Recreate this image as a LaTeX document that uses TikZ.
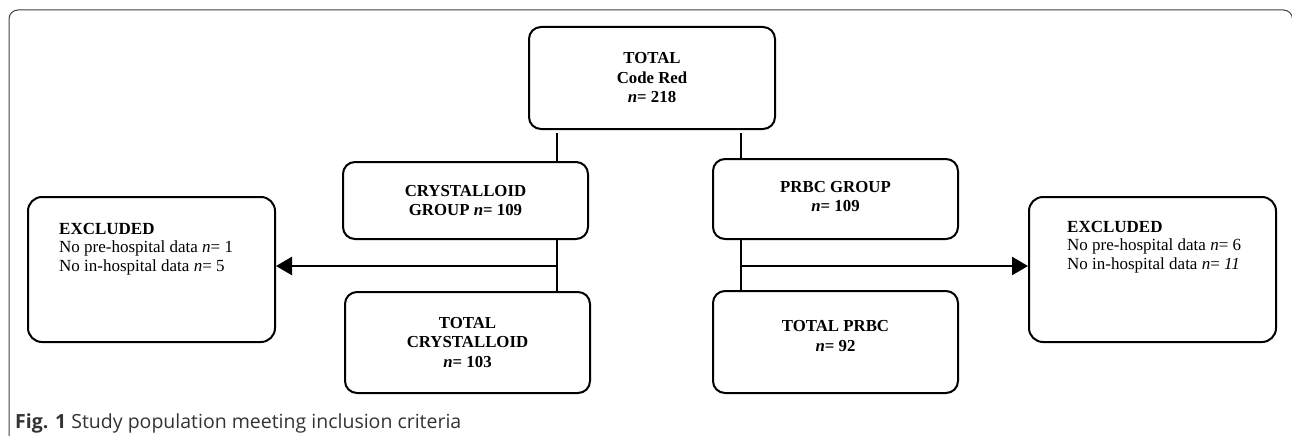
\documentclass[tikz,border=0pt]{standalone}
\usepackage{fontspec}
\setmainfont{Liberation Serif}
\newfontfamily\capfont{Open Sans}
\usetikzlibrary{arrows.meta}

\begin{document}
\begin{tikzpicture}[x=1pt,y=-1pt,
  box/.style={draw, line width=2pt, rounded corners=12pt, minimum width=245pt, inner sep=0pt, align=center, font=\fontsize{16.8}{19.5}\selectfont\bfseries},
  exbox/.style={draw, line width=2pt, rounded corners=14pt, minimum width=247pt, minimum height=145pt, inner sep=0pt},
  extext/.style={anchor=north west, inner sep=0pt, align=left, font=\fontsize{17}{18.5}\selectfont},
  link/.style={line width=1.1pt},
  arr/.style={line width=2.6pt, -{Triangle[length=16pt,width=18pt]}}]
\clip (0,0) rectangle (1292,436);
\draw[black!75, line width=1pt, rounded corners=9pt] (9,445) -- (9,10) -- (1292.5,10) -- (1292.5,445);
\node[box, minimum width=246pt, minimum height=102pt] (total) at (652,78) {TOTAL\\Code Red\\\textit{n}= 218};
\node[box, minimum height=77pt] (cg) at (465.5,200.5) {CRYSTALLOID\\GROUP \textit{n}= 109};
\node[box, minimum height=101pt] (tc) at (467.5,342.5) {TOTAL\\CRYSTALLOID\\\textit{n}= 103};
\node[box, minimum height=80pt] (pg) at (835.5,199) {PRBC GROUP\\\textit{n}= 109\\[-14pt]~};
\node[box, minimum height=102pt] (tp) at (835.5,342) {TOTAL PRBC\\\textit{n}= 92\\[-7pt]~};
\node[exbox] (exl) at (151.5,269.5) {};
\node[exbox] (exr) at (1152.5,269.5) {};
\node[extext] (exltext) at ([xshift=32pt,yshift=-27pt]exl.north west) {\textbf{EXCLUDED}\\No pre-hospital data \textit{n}= 1\\No in-hospital data \textit{n}= 5};
\node[extext] (exrtext) at ([xshift=39pt,yshift=-25pt]exr.north west) {\textbf{EXCLUDED}\\No pre-hospital data \textit{n}= 6\\No in-hospital data \textit{n}= \textit{11}};
\coordinate (lsplit) at (557,266);
\coordinate (rsplit) at (741,266);
\draw[link, shorten <=3pt] (total.south -| lsplit) -- (cg.north -| lsplit);
\draw[link, shorten <=3pt] (total.south -| rsplit) -- (pg.north -| rsplit);
\draw[link] (cg.south -| lsplit) -- (tc.north -| lsplit);
\draw[link] (pg.south -| rsplit) -- (tp.north -| rsplit);
\draw[arr] (lsplit) -- (exl.east |- lsplit);
\draw[arr] (rsplit) -- (exr.west |- rsplit);
\node[anchor=west, inner sep=0pt, text=black!80, font=\capfont\fontsize{19.5}{22}\selectfont] (caption) at (15,423) {\textbf{Fig. 1} Study population meeting inclusion criteria};
\end{tikzpicture}
\end{document}
